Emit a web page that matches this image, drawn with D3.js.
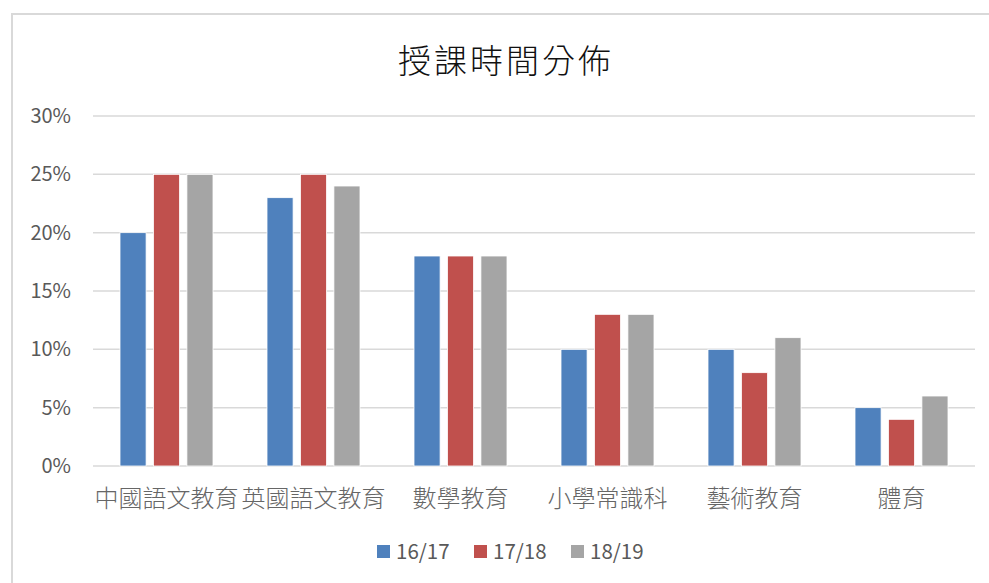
<!DOCTYPE html>
<html>
<head>
<meta charset="utf-8">
<script src="https://cdn.jsdelivr.net/npm/d3@7"></script>
<style>
  body { margin: 0; background: #fff; }
  text { font-family: "Noto Sans CJK TC", "Noto Sans", sans-serif; }
</style>
</head>
<body>
<div id="chart"></div>
<script>
// data
var categories = ["中國語文教育", "英國語文教育", "數學教育", "小學常識科", "藝術教育", "體育"];
var seriesNames = ["16/17", "17/18", "18/19"];
var v1617 = [20, 23, 18, 10, 10, 5];
var v1718 = [25, 25, 18, 13, 8, 4];
var v1819 = [25, 24, 18, 13, 11, 6];
var yTicks = [0, 5, 10, 15, 20, 25, 30];
var colors = ["#4F81BD", "#C0504D", "#A5A5A5"];

var seriesValues = [v1617, v1718, v1819];
var width = 989, height = 583;
var svg = d3.select("#chart").append("svg").attr("width", width).attr("height", height);

// chart frame
svg.append("rect").attr("x", 12).attr("y", 14).attr("width", 990).attr("height", 600)
    .attr("fill", "none").attr("stroke", "#d9d9d9").attr("stroke-width", 2);

svg.append("text").attr("x", 506).attr("y", 73).attr("text-anchor", "middle")
    .attr("font-size", 33).attr("fill", "#111").attr("font-weight", 300)
    .attr("letter-spacing", 3)
    .text("授課時間分佈");

var x = d3.scaleBand().domain(categories).range([93, 975]);
var xs = d3.scaleBand().domain(seriesNames).range([0, 93]).paddingInner(0.22);
var y = d3.scaleLinear().domain([0, 30]).range([466, 116]);

// grid
svg.append("g").selectAll("line").data(yTicks).join("line")
    .attr("x1", 93).attr("x2", 975)
    .attr("y1", function (d) { return y(d); }).attr("y2", function (d) { return y(d); })
    .attr("stroke", "#d9d9d9").attr("stroke-width", 1.5);

// y axis labels
svg.append("g").selectAll("text").data(yTicks).join("text")
    .attr("x", 71).attr("y", function (d) { return y(d); }).attr("dy", "0.35em")
    .attr("text-anchor", "end").attr("font-size", 20).attr("fill", "#595959")
    .text(function (d) { return d + "%"; });

// bars
var groups = svg.append("g").selectAll("g").data(categories).join("g")
    .attr("transform", function (d) { return "translate(" + (x(d) + x.bandwidth() / 2 - 46.5) + ",0)"; });

groups.selectAll("rect").data(function (d, i) {
        return seriesNames.map(function (s, j) { return {s: s, v: seriesValues[j][i], c: colors[j]}; });
    }).join("rect")
    .attr("x", function (d) { return xs(d.s); })
    .attr("width", xs.bandwidth())
    .attr("y", function (d) { return y(d.v); })
    .attr("height", function (d) { return y(0) - y(d.v); })
    .attr("fill", function (d) { return d.c; })
    .attr("stroke", "#fff").attr("stroke-width", 0.8);

// category labels
svg.append("g").selectAll("text").data(categories).join("text")
    .attr("x", function (d) { return x(d) + x.bandwidth() / 2; }).attr("y", 507)
    .attr("text-anchor", "middle").attr("font-size", 24).attr("font-weight", 300)
    .attr("fill", "#666")
    .text(function (d) { return d; });

// legend
var legendX = [377, 474, 571];
var legend = svg.append("g").selectAll("g").data(seriesNames).join("g")
    .attr("transform", function (d, i) { return "translate(" + legendX[i] + ",545)"; });
legend.append("rect").attr("width", 13).attr("height", 13)
    .attr("fill", function (d, i) { return colors[i]; });
legend.append("text").attr("x", 19).attr("y", 7).attr("dy", "0.36em")
    .attr("font-size", 20.5).attr("fill", "#595959")
    .text(function (d) { return d; });
</script>
</body>
</html>
